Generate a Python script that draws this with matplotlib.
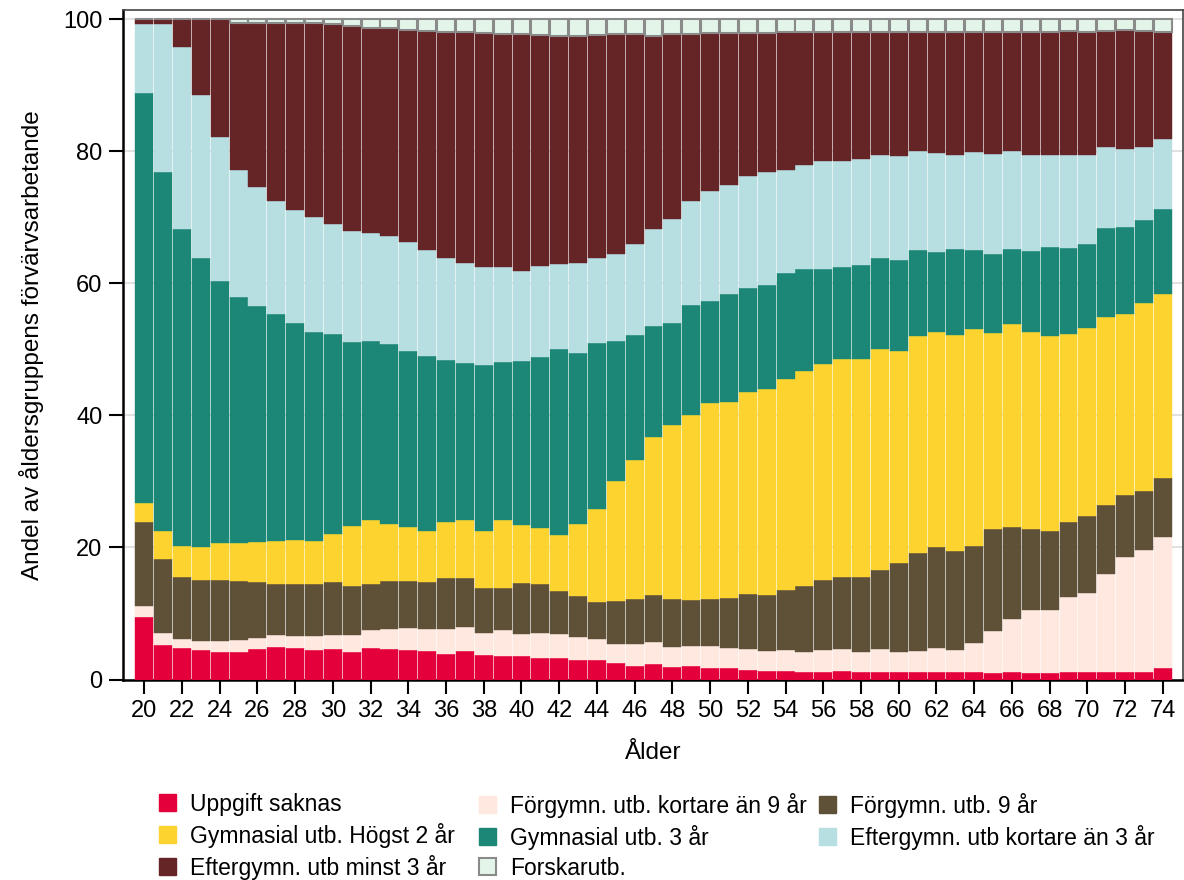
import matplotlib.pyplot as plt
from matplotlib.patches import Patch

plt.rcParams['font.family'] = ['Liberation Sans', 'DejaVu Sans']

# --- Data: share (%) of employed per age group and education level ---
ages = list(range(20, 75))

uppgift_saknas = [9.4, 5.3, 4.7, 4.4, 4.2, 4.2, 4.6, 4.9, 4.7, 4.5,
                  4.6, 4.2, 4.7, 4.6, 4.5, 4.3, 3.9, 4.3, 3.7, 3.6,
                  3.5, 3.3, 3.3, 3.0, 2.9, 2.5, 2.1, 2.4, 1.9, 2.0,
                  1.7, 1.7, 1.5, 1.3, 1.3, 1.2, 1.2, 1.3, 1.2, 1.2,
                  1.1, 1.1, 1.1, 1.1, 1.1, 1.0, 1.1, 1.0, 1.0, 1.1,
                  1.1, 1.1, 1.2, 1.2, 1.7]
forgymn_kort = [1.7, 1.8, 1.4, 1.5, 1.6, 1.8, 1.7, 1.8, 1.9, 2.1,
                2.2, 2.5, 2.8, 3.1, 3.3, 3.3, 3.7, 3.6, 3.3, 3.9,
                3.4, 3.7, 3.6, 3.4, 3.3, 2.9, 3.3, 3.3, 3.0, 3.1,
                3.4, 3.1, 3.1, 3.0, 3.1, 3.0, 3.3, 3.3, 3.0, 3.4,
                3.1, 3.2, 3.7, 3.4, 4.5, 6.4, 8.1, 9.5, 9.6, 11.4,
                12.0, 14.9, 17.4, 18.4, 19.9]
forgymn_9 = [12.7, 11.1, 9.4, 9.1, 9.2, 8.9, 8.4, 7.8, 7.9, 7.9,
             7.9, 7.4, 7.0, 7.2, 7.1, 7.2, 7.7, 7.4, 6.8, 6.4,
             7.7, 7.4, 6.5, 6.3, 5.6, 6.5, 6.8, 7.1, 7.3, 6.9,
             7.1, 7.5, 8.3, 8.5, 9.1, 9.9, 10.6, 10.9, 11.3, 12.0,
             13.5, 14.8, 15.2, 15.0, 14.6, 15.4, 13.9, 12.3, 11.9, 11.4,
             11.6, 10.5, 9.3, 8.9, 8.9]
gymn_2 = [2.9, 4.3, 4.7, 5.0, 5.6, 5.8, 6.1, 6.5, 6.6, 6.5,
          7.4, 9.1, 9.7, 8.7, 8.2, 7.7, 8.6, 8.9, 8.7, 10.3,
          8.8, 8.6, 8.5, 10.9, 14.0, 18.2, 21.1, 23.9, 26.3, 28.1,
          29.7, 29.7, 30.7, 31.2, 32.0, 32.6, 32.7, 33.0, 33.1, 33.4,
          32.1, 33.0, 32.6, 32.7, 32.9, 29.7, 30.7, 29.8, 29.5, 28.5,
          28.5, 28.4, 27.4, 28.5, 27.9]
gymn_3 = [62.2, 54.4, 48.1, 43.9, 39.8, 37.3, 35.7, 34.3, 32.9, 31.7,
          30.3, 27.9, 27.0, 27.2, 26.7, 26.5, 24.5, 23.7, 25.1, 23.9,
          24.8, 25.9, 28.1, 25.9, 25.1, 21.1, 18.9, 16.9, 15.5, 16.6,
          15.4, 16.4, 15.7, 15.8, 16.1, 15.4, 14.4, 14.0, 14.2, 13.8,
          13.8, 13.0, 12.2, 13.0, 11.9, 11.9, 11.4, 12.3, 13.5, 12.9,
          12.7, 13.5, 13.3, 12.6, 12.9]
efter_kort = [10.4, 22.4, 27.5, 24.7, 21.8, 19.1, 18.1, 17.2, 17.1, 17.3,
              16.6, 16.8, 16.4, 16.4, 16.5, 16.0, 15.5, 15.2, 14.9, 14.4,
              13.7, 13.8, 13.0, 13.6, 12.9, 13.3, 13.7, 14.7, 15.7, 15.8,
              16.7, 16.5, 16.9, 17.0, 15.6, 15.8, 16.3, 16.0, 16.1, 15.6,
              15.7, 14.9, 14.9, 14.3, 14.9, 15.2, 14.8, 14.6, 14.0, 14.1,
              13.5, 12.2, 11.8, 11.1, 10.6]
efter_minst3 = [0.7, 0.7, 4.2, 11.4, 17.8, 22.4, 24.9, 27.0, 28.4, 29.5,
                30.3, 31.1, 31.1, 31.4, 32.0, 33.2, 34.1, 34.9, 35.4, 35.3,
                35.9, 34.9, 34.5, 34.4, 33.8, 33.3, 31.9, 29.1, 28.0, 25.2,
                23.9, 23.0, 21.7, 21.1, 20.8, 20.1, 19.6, 19.6, 19.2, 18.7,
                18.8, 18.1, 18.3, 18.5, 18.2, 18.5, 18.1, 18.6, 18.6, 18.8,
                18.7, 17.6, 17.9, 17.5, 16.2]
forskar = [0.0, 0.0, 0.0, 0.0, 0.0, 0.5, 0.5, 0.5, 0.5, 0.5,
           0.7, 1.0, 1.3, 1.4, 1.7, 1.8, 2.0, 2.0, 2.1, 2.2,
           2.2, 2.4, 2.5, 2.5, 2.4, 2.2, 2.2, 2.6, 2.3, 2.3,
           2.1, 2.1, 2.1, 2.1, 2.0, 2.0, 1.9, 1.9, 1.9, 1.9,
           1.9, 1.9, 2.0, 2.0, 1.9, 1.9, 1.9, 1.9, 1.9, 1.8,
           1.9, 1.8, 1.7, 1.8, 1.9]

labels = ["Uppgift saknas", "Förgymn. utb. kortare än 9 år", "Förgymn. utb. 9 år",
          "Gymnasial utb. Högst 2 år", "Gymnasial utb. 3 år",
          "Eftergymn. utb kortare än 3 år", "Eftergymn. utb minst 3 år", "Forskarutb."]
series = [uppgift_saknas, forgymn_kort, forgymn_9, gymn_2, gymn_3,
          efter_kort, efter_minst3, forskar]
colors = ["#E4003A", "#FEE8DF", "#5F5138", "#FDD42F", "#1C8776",
          "#B7DEE1", "#652426", "#E3F5E9"]

# --- Figure ---
W, H = 1184, 880
fig = plt.figure(figsize=(W / 100, H / 100), dpi=100)
ax = fig.add_axes([123.3 / W, 1 - 679.5 / H, (1183 - 123.3) / W, (679.5 - 10) / H])

bottom = [0.0] * len(ages)
for vals, col, lab in zip(series, colors, labels):
    if lab == "Forskarutb.":
        ax.bar(ages, vals, bottom=bottom, width=0.95, color=col,
               edgecolor="#8a8a8a", linewidth=1.5, zorder=3)
    else:
        ax.bar(ages, vals, bottom=bottom, width=0.95, color=col,
               edgecolor=col, linewidth=0.3, zorder=3)
    bottom = [b + v for b, v in zip(bottom, vals)]

ax.set_xlim(18.89, 75.07)
ax.set_ylim(0, 101.4)
ax.set_xticks(range(20, 75, 2))
ax.set_yticks(range(0, 101, 20))
ax.tick_params(axis="both", direction="out", length=10, width=1.5,
               labelsize=17, pad=5)
ax.yaxis.grid(True, color="#dcdcdc", linewidth=1.2, zorder=0)
ax.set_axisbelow(True)

for side in ["left", "bottom"]:
    ax.spines[side].set_linewidth(1.8)
for side in ["top", "right"]:
    ax.spines[side].set_color("#444444")
    ax.spines[side].set_linewidth(1.2)

ax.set_xlabel("Ålder", fontsize=17.5, labelpad=14)
ax.set_ylabel("Andel av åldersgruppens förvärvsarbetande", fontsize=17.5, labelpad=14)

# --- Legend: three fixed columns ---
def make_handle(i):
    if labels[i] == "Forskarutb.":
        return Patch(facecolor=colors[i], edgecolor="#8a8a8a", linewidth=1.5)
    return Patch(facecolor=colors[i], edgecolor=colors[i])

columns = [([0, 3, 6], 152), ([1, 4, 7], 472), ([2, 5], 812)]
for idx, xpos in columns:
    fig.legend([make_handle(i) for i in idx], [labels[i] for i in idx],
               loc="upper left", bbox_to_anchor=(xpos / W, 1 - 786 / H),
               frameon=False, fontsize=16.5, handlelength=0.75, handleheight=0.75,
               handletextpad=0.6, labelspacing=0.3, borderaxespad=0,
               borderpad=0.3)

fig.savefig("out.png", dpi=100)
